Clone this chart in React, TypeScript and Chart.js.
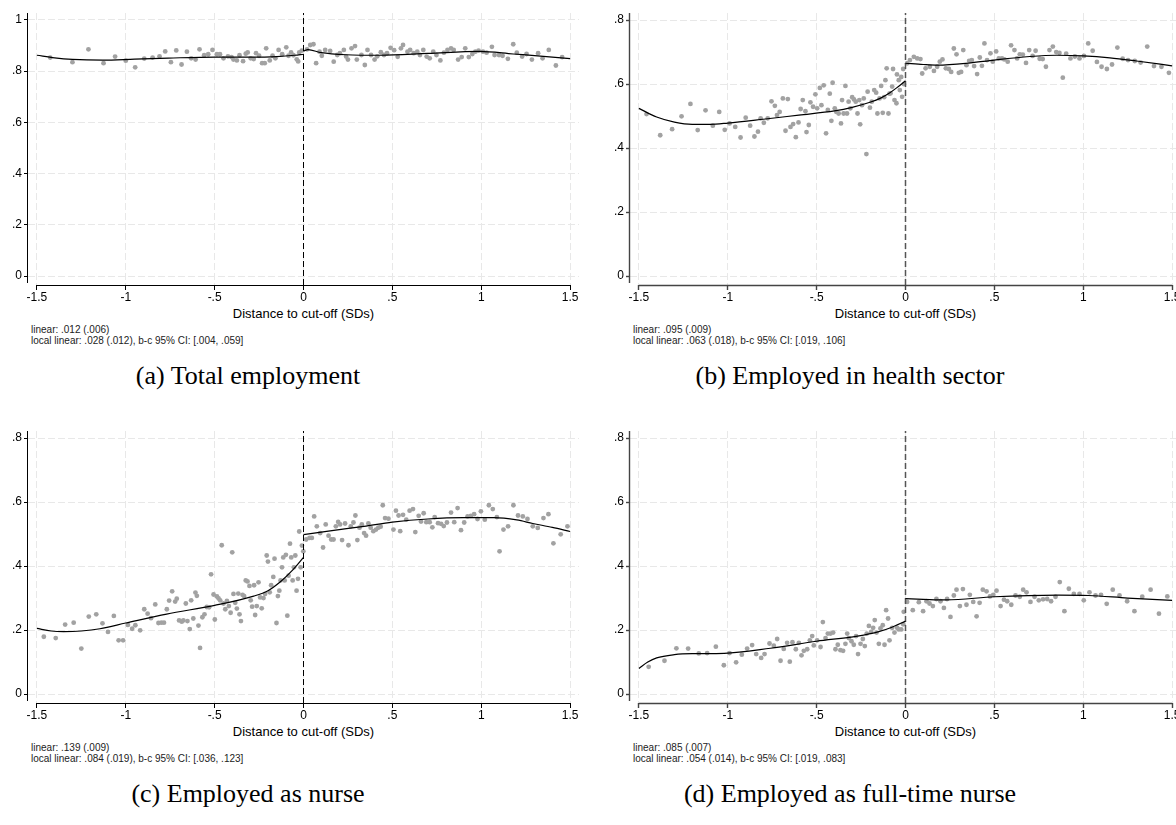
import React, { useEffect, useRef } from 'react';
import { Chart, registerables } from 'chart.js';

Chart.register(...registerables);

type Pt = [number, number];

const SANS = '"Liberation Sans", Arial, Helvetica, sans-serif';
const SERIF = '"Liberation Serif", "Times New Roman", Times, serif';

const xTicks = [-1.5, -1, -0.5, 0, 0.5, 1, 1.5];
const yTicksA = [0, 0.2, 0.4, 0.6, 0.8, 1];
const yTicksBCD = [0, 0.2, 0.4, 0.6, 0.8];
const xTitle = 'Distance to cut-off (SDs)';

const captionA = '(a) Total employment';
const captionB = '(b) Employed in health sector';
const captionC = '(c) Employed as nurse';
const captionD = '(d) Employed as full-time nurse';

const notesA = ['linear: .012 (.006)', 'local linear: .028 (.012), b-c 95% CI: [.004, .059]'];
const notesB = ['linear: .095 (.009)', 'local linear: .063 (.018), b-c 95% CI: [.019, .106]'];
const notesC = ['linear: .139 (.009)', 'local linear: .084 (.019), b-c 95% CI: [.036, .123]'];
const notesD = ['linear: .085 (.007)', 'local linear: .054 (.014), b-c 95% CI: [.019, .083]'];

// ---------- (a) Total employment ----------
const pointsA: Pt[] = [
  [-1.425, .853], [-1.3, .835], [-1.21, .885], [-1.125, .831], [-1.06, .857], [-1.0, .841], [-0.947, .815],
  [-0.896, .849], [-0.849, .853], [-0.81, .858], [-0.778, .877], [-0.746, .835], [-0.716, .881], [-0.686, .826],
  [-0.656, .876], [-0.632, .85], [-0.607, .845], [-0.585, .885], [-0.559, .862], [-0.536, .866], [-0.512, .883],
  [-0.487, .866], [-0.47, .866], [-0.45, .85], [-0.425, .858], [-0.405, .855], [-0.394, .845], [-0.375, .842],
  [-0.36, .862], [-0.34, .839], [-0.325, .868], [-0.314, .873], [-0.297, .85], [-0.28, .847], [-0.267, .87],
  [-0.25, .86], [-0.233, .831], [-0.218, .831], [-0.21, .889], [-0.19, .842], [-0.174, .86], [-0.158, .85],
  [-0.14, .883], [-0.12, .866], [-0.097, .893], [-0.084, .86], [-0.07, .873], [-0.057, .862], [-0.038, .846],
  [-0.03, .838], [-0.024, .873], [-0.01, .88],
  [0.02, .885], [0.038, .902], [0.056, .905], [0.071, .831], [0.09, .876], [0.103, .86], [0.122, .883],
  [0.15, .879], [0.17, .837], [0.19, .863], [0.205, .87], [0.227, .883], [0.24, .857], [0.25, .845],
  [0.27, .889], [0.29, .898], [0.3, .845], [0.326, .863], [0.345, .824], [0.36, .883], [0.38, .863],
  [0.4, .845], [0.415, .858], [0.435, .874], [0.453, .863], [0.47, .87], [0.49, .891], [0.51, .882],
  [0.53, .856], [0.548, .889], [0.56, .902], [0.585, .876], [0.6, .883], [0.62, .87], [0.64, .876],
  [0.655, .863], [0.674, .883], [0.693, .857], [0.71, .85], [0.73, .876], [0.748, .863], [0.77, .842],
  [0.79, .872], [0.81, .883], [0.83, .889], [0.845, .883], [0.87, .845], [0.89, .855], [0.91, .889],
  [0.93, .855], [0.95, .867], [0.967, .876], [0.985, .88], [1.01, .876], [1.03, .872], [1.06, .895],
  [1.075, .863], [1.1, .863], [1.12, .86], [1.15, .848], [1.18, .905], [1.2, .872], [1.23, .857],
  [1.255, .867], [1.285, .845], [1.32, .87], [1.345, .85], [1.38, .883], [1.42, .822], [1.455, .855],
];
const fitLeftA: Pt[] = [
  [-1.5, .862], [-1.4, .852], [-1.3, .846], [-1.13, .843], [-0.95, .847], [-0.76, .851], [-0.5, .855],
  [-0.3, .855], [-0.15, .857], [-0.05, .862], [0, .866],
];
const fitRightA: Pt[] = [
  [0, .878], [0.025, .884], [0.1, .872], [0.24, .864], [0.43, .862], [0.7, .869], [0.99, .877],
  [1.18, .867], [1.35, .858], [1.5, .849],
];

// ---------- (b) Employed in health sector ----------
const pointsB: Pt[] = [
  [-1.457, .506], [-1.38, .44], [-1.313, .459], [-1.26, .499], [-1.21, .538], [-1.169, .456], [-1.125, .518],
  [-1.084, .47], [-1.048, .513], [-1.017, .457], [-0.99, .477], [-0.958, .466], [-0.928, .433], [-0.899, .495],
  [-0.874, .47], [-0.85, .436], [-0.83, .451], [-0.815, .493], [-0.797, .479], [-0.775, .493], [-0.754, .546],
  [-0.735, .532], [-0.723, .503], [-0.708, .513], [-0.69, .555], [-0.675, .454], [-0.662, .553], [-0.647, .466],
  [-0.632, .475], [-0.617, .434], [-0.602, .48], [-0.59, .522], [-0.578, .55], [-0.563, .515], [-0.557, .45],
  [-0.544, .472], [-0.535, .543], [-0.52, .529], [-0.507, .568], [-0.497, .524], [-0.482, .588], [-0.473, .534],
  [-0.46, .596], [-0.447, .446], [-0.437, .519], [-0.426, .57], [-0.417, .485], [-0.41, .604], [-0.398, .524],
  [-0.389, .513], [-0.376, .508], [-0.363, .477], [-0.357, .55], [-0.348, .508], [-0.338, .594], [-0.329, .508],
  [-0.32, .545], [-0.31, .524], [-0.3, .559], [-0.29, .552], [-0.28, .545], [-0.27, .508], [-0.26, .55],
  [-0.255, .474], [-0.245, .534], [-0.235, .555], [-0.22, .381], [-0.213, .576], [-0.2, .526], [-0.19, .545],
  [-0.176, .581], [-0.165, .573], [-0.158, .508], [-0.146, .555], [-0.137, .594], [-0.128, .51], [-0.12, .559],
  [-0.113, .612], [-0.106, .649], [-0.096, .508], [-0.09, .57], [-0.084, .571], [-0.075, .592], [-0.07, .647],
  [-0.062, .55], [-0.051, .54], [-0.048, .63], [-0.038, .612], [-0.032, .581], [-0.024, .622], [-0.019, .56],
  [-0.013, .647], [-0.009, .6],
  [0.01, .665], [0.025, .675], [0.047, .685], [0.066, .68], [0.084, .678], [0.094, .633], [0.113, .649],
  [0.137, .654], [0.16, .641], [0.178, .654], [0.193, .67], [0.208, .677], [0.227, .649], [0.244, .647],
  [0.257, .638], [0.272, .711], [0.287, .693], [0.3, .635], [0.313, .638], [0.325, .706], [0.343, .659],
  [0.358, .672], [0.373, .675], [0.386, .656], [0.403, .631], [0.418, .683], [0.43, .657], [0.444, .727],
  [0.459, .675], [0.478, .696], [0.491, .67], [0.51, .702], [0.525, .68], [0.543, .68], [0.556, .677],
  [0.575, .67], [0.594, .721], [0.613, .706], [0.628, .68], [0.643, .693], [0.66, .692], [0.678, .666],
  [0.696, .706], [0.715, .688], [0.732, .704], [0.755, .679], [0.772, .678], [0.79, .654], [0.81, .706],
  [0.829, .717], [0.848, .7], [0.866, .697], [0.885, .62], [0.904, .695], [0.928, .68], [0.953, .686],
  [0.979, .68], [1.004, .688], [1.028, .727], [1.053, .704], [1.077, .669], [1.103, .654], [1.133, .647],
  [1.162, .661], [1.192, .714], [1.222, .679], [1.252, .675], [1.29, .672], [1.323, .667], [1.36, .717],
  [1.398, .656], [1.44, .654], [1.482, .635],
];
const fitLeftB: Pt[] = [
  [-1.5, .524], [-1.4, .497], [-1.3, .481], [-1.2, .474], [-1.1, .474], [-1.0, .478], [-0.8, .49],
  [-0.6, .503], [-0.4, .516], [-0.3, .527], [-0.2, .543], [-0.14, .556], [-0.09, .572], [-0.05, .588], [0, .61],
];
const fitRightB: Pt[] = [
  [0, .665], [0.1, .661], [0.18, .659], [0.35, .665], [0.5, .675], [0.7, .686], [0.85, .69], [1.0, .688],
  [1.15, .682], [1.3, .672], [1.5, .657],
];

// ---------- (c) Employed as nurse ----------
const pointsC: Pt[] = [
  [-1.461, .179], [-1.394, .175], [-1.341, .217], [-1.293, .223], [-1.25, .142], [-1.208, .242], [-1.166, .249],
  [-1.131, .221], [-1.1, .194], [-1.067, .244], [-1.04, .168], [-1.015, .168], [-0.988, .216], [-0.964, .204],
  [-0.946, .215], [-0.919, .199], [-0.896, .265], [-0.877, .251], [-0.858, .237], [-0.834, .28], [-0.816, .222],
  [-0.8, .223], [-0.785, .223], [-0.769, .265], [-0.756, .292], [-0.739, .321], [-0.722, .289], [-0.713, .298],
  [-0.7, .23], [-0.685, .226], [-0.676, .23], [-0.662, .283], [-0.653, .228], [-0.64, .203], [-0.632, .293],
  [-0.62, .236], [-0.608, .317], [-0.6, .307], [-0.591, .214], [-0.582, .144], [-0.569, .24], [-0.557, .249],
  [-0.544, .272], [-0.531, .271], [-0.52, .374], [-0.506, .311], [-0.499, .233], [-0.487, .305], [-0.478, .299],
  [-0.469, .293], [-0.46, .465], [-0.45, .283], [-0.44, .265], [-0.431, .291], [-0.42, .275], [-0.41, .254],
  [-0.401, .443], [-0.394, .313], [-0.384, .285], [-0.375, .267], [-0.367, .314], [-0.36, .249], [-0.352, .228],
  [-0.343, .31], [-0.334, .306], [-0.325, .355], [-0.315, .352], [-0.304, .338], [-0.297, .293], [-0.289, .273],
  [-0.278, .34], [-0.272, .247], [-0.263, .275], [-0.253, .349], [-0.244, .302], [-0.235, .268], [-0.225, .3],
  [-0.216, .313], [-0.207, .433], [-0.2, .414], [-0.19, .318], [-0.182, .34], [-0.17, .366], [-0.163, .423],
  [-0.152, .222], [-0.144, .306], [-0.136, .323], [-0.129, .355], [-0.121, .396], [-0.114, .427], [-0.106, .355],
  [-0.099, .435], [-0.091, .245], [-0.084, .37], [-0.076, .47], [-0.069, .427], [-0.061, .355], [-0.054, .396],
  [-0.046, .433], [-0.039, .323], [-0.031, .36], [-0.024, .508], [-0.016, .396], [-0.009, .464], [-0.001, .446],
  [0.015, .483], [0.034, .488], [0.047, .488], [0.06, .555], [0.075, .524], [0.094, .503], [0.11, .458],
  [0.125, .53], [0.141, .495], [0.156, .483], [0.169, .483], [0.182, .524], [0.195, .538], [0.206, .53],
  [0.217, .481], [0.234, .533], [0.253, .465], [0.266, .524], [0.281, .536], [0.292, .558], [0.303, .481],
  [0.315, .52], [0.328, .53], [0.341, .503], [0.352, .495], [0.365, .533], [0.378, .52], [0.393, .509],
  [0.408, .514], [0.421, .52], [0.434, .523], [0.446, .59], [0.459, .55], [0.478, .548], [0.506, .514],
  [0.52, .573], [0.535, .558], [0.544, .509], [0.56, .56], [0.578, .545], [0.597, .573], [0.616, .578],
  [0.629, .506], [0.648, .557], [0.661, .539], [0.676, .565], [0.691, .537], [0.71, .537], [0.725, .521],
  [0.738, .553], [0.757, .534], [0.774, .532], [0.789, .525], [0.807, .536], [0.83, .567], [0.848, .537],
  [0.867, .581], [0.886, .512], [0.904, .536], [0.923, .555], [0.942, .557], [0.96, .562], [0.979, .547],
  [0.998, .571], [1.02, .545], [1.043, .59], [1.065, .578], [1.088, .553], [1.103, .446], [1.125, .514],
  [1.151, .524], [1.181, .59], [1.207, .558], [1.234, .555], [1.26, .547], [1.29, .524], [1.318, .519],
  [1.35, .55], [1.378, .562], [1.406, .471], [1.447, .499], [1.485, .524],
];
const fitLeftC: Pt[] = [
  [-1.5, .205], [-1.42, .197], [-1.35, .195], [-1.25, .197], [-1.145, .204], [-1.0, .222], [-0.77, .25],
  [-0.5, .277], [-0.28, .306], [-0.2, .323], [-0.13, .351], [-0.06, .388], [0, .427],
];
const fitRightC: Pt[] = [
  [0, .498], [0.15, .51], [0.34, .524], [0.5, .537], [0.7, .547], [0.9, .551], [1.07, .551], [1.2, .544],
  [1.29, .533], [1.4, .521], [1.5, .508],
];

// ---------- (d) Employed as full-time nurse ----------
const pointsD: Pt[] = [
  [-1.445, .085], [-1.356, .104], [-1.289, .143], [-1.223, .142], [-1.163, .127], [-1.116, .128], [-1.067, .148],
  [-1.022, .09], [-0.99, .128], [-0.953, .099], [-0.921, .123], [-0.891, .142], [-0.863, .153], [-0.84, .125],
  [-0.812, .113], [-0.793, .125], [-0.765, .158], [-0.741, .151], [-0.722, .172], [-0.703, .104], [-0.685, .141],
  [-0.666, .16], [-0.651, .101], [-0.636, .162], [-0.617, .14], [-0.6, .16], [-0.585, .121], [-0.572, .135],
  [-0.553, .14], [-0.538, .168], [-0.525, .181], [-0.516, .152], [-0.497, .168], [-0.478, .147], [-0.465, .225],
  [-0.45, .175], [-0.437, .189], [-0.422, .189], [-0.407, .192], [-0.394, .14], [-0.381, .154], [-0.366, .137],
  [-0.351, .135], [-0.338, .157], [-0.328, .189], [-0.319, .175], [-0.304, .165], [-0.291, .154], [-0.278, .181],
  [-0.267, .125], [-0.253, .157], [-0.24, .172], [-0.229, .15], [-0.218, .189], [-0.206, .213], [-0.193, .194],
  [-0.182, .207], [-0.173, .231], [-0.163, .192], [-0.15, .157], [-0.141, .205], [-0.128, .215], [-0.118, .154],
  [-0.109, .262], [-0.098, .236], [-0.09, .168], [-0.075, .207], [-0.062, .192], [-0.047, .207], [-0.038, .202],
  [-0.024, .202], [-0.013, .218], [-0.01, .257],
  [0.009, .288], [0.041, .262], [0.075, .287], [0.099, .259], [0.118, .29], [0.135, .283], [0.154, .275],
  [0.174, .297], [0.197, .29], [0.216, .269], [0.234, .297], [0.253, .241], [0.272, .308], [0.287, .326],
  [0.306, .275], [0.323, .328], [0.343, .279], [0.362, .31], [0.381, .288], [0.4, .243], [0.417, .285],
  [0.435, .326], [0.456, .321], [0.475, .305], [0.494, .31], [0.512, .323], [0.535, .275], [0.554, .295],
  [0.572, .29], [0.595, .279], [0.619, .308], [0.643, .304], [0.662, .326], [0.681, .318], [0.703, .288],
  [0.726, .304], [0.75, .293], [0.774, .296], [0.797, .297], [0.819, .29], [0.844, .304], [0.868, .35],
  [0.894, .259], [0.919, .329], [0.947, .313], [0.979, .313], [1.003, .293], [1.035, .318], [1.069, .308],
  [1.1, .31], [1.132, .282], [1.166, .326], [1.204, .308], [1.247, .29], [1.288, .259], [1.332, .304],
  [1.379, .326], [1.426, .251], [1.473, .305],
];
const fitLeftD: Pt[] = [
  [-1.5, .08], [-1.45, .1], [-1.4, .113], [-1.3, .123], [-1.2, .126], [-1.02, .127], [-0.76, .143],
  [-0.5, .165], [-0.27, .181], [-0.15, .195], [-0.08, .208], [0, .228],
];
const fitRightD: Pt[] = [
  [0, .298], [0.1, .296], [0.23, .294], [0.5, .304], [0.86, .309], [1.03, .308], [1.25, .3], [1.5, .293],
];

const fmtTick = (v: number): string => {
  if (Math.abs(v) < 1e-9) return '0';
  const s = String(Math.round(v * 100) / 100);
  return s.replace(/^(-?)0\./, '$1.');
};

interface PanelCfg {
  left: number;
  top: number;
  canvasW: number;
  axisW: number;
  padR: number;
  yMin: number;
  yMax: number;
  yTicks: number[];
  points: Pt[];
  fitL: Pt[];
  fitR: Pt[];
  axisColor: string;
  axisWidth: number;
  cutColor: string;
  cutWidth: number;
  notes: string[];
  caption: string;
  captionX: number;
}

const CANVAS_H = 305;
const PAD_TOP = 13;
const X_AXIS_H = 20;
const X_MIN = -1.55;
const X_MAX = 1.55;

function Panel({ cfg }: { cfg: PanelCfg }) {
  const ref = useRef<HTMLCanvasElement>(null);

  useEffect(() => {
    const canvas = ref.current;
    if (!canvas) return;
    const toXY = (arr: Pt[]) => arr.map(([x, y]) => ({ x, y }));
    const axesPlugin = {
      id: 'stataAxes',
      afterDraw(chart: any) {
        const { ctx, chartArea, scales } = chart;
        const xs = scales.x;
        ctx.save();
        ctx.strokeStyle = cfg.axisColor;
        ctx.lineWidth = cfg.axisWidth;
        ctx.beginPath();
        const xa = xs.getPixelForValue(xTicks[0]);
        const xb = xs.getPixelForValue(xTicks[xTicks.length - 1]);
        ctx.moveTo(xa, chartArea.bottom + 0.5);
        ctx.lineTo(xb, chartArea.bottom + 0.5);
        ctx.moveTo(chartArea.left - 0.5, chartArea.top);
        ctx.lineTo(chartArea.left - 0.5, chartArea.bottom - 2);
        ctx.stroke();
        ctx.restore();
      },
    };
    const gridCommon = {
      color: '#e8e8e8',
      lineWidth: 1,
      tickColor: cfg.axisColor,
      tickWidth: cfg.axisWidth,
      tickBorderDash: [],
    };
    const chart = new Chart(canvas, {
      type: 'scatter',
      data: {
        datasets: [
          {
            data: toXY(cfg.fitL),
            showLine: true,
            borderColor: '#000',
            borderWidth: 1.2,
            pointRadius: 0,
            cubicInterpolationMode: 'monotone',
            order: 0,
          } as any,
          {
            data: toXY(cfg.fitR),
            showLine: true,
            borderColor: '#000',
            borderWidth: 1.2,
            pointRadius: 0,
            cubicInterpolationMode: 'monotone',
            order: 0,
          } as any,
          {
            data: [{ x: 0, y: cfg.yMin }, { x: 0, y: cfg.yMax }],
            showLine: true,
            borderColor: cfg.cutColor,
            borderWidth: cfg.cutWidth,
            borderDash: [6, 3],
            pointRadius: 0,
            order: 1,
          } as any,
          {
            data: toXY(cfg.points),
            pointRadius: 2.4,
            pointBackgroundColor: '#a2a2a2',
            pointBorderWidth: 0,
            backgroundColor: '#a2a2a2',
            borderWidth: 0,
            order: 2,
          } as any,
        ],
      },
      options: {
        animation: false,
        responsive: false,
        devicePixelRatio: 1,
        events: [],
        layout: { padding: { top: PAD_TOP, right: cfg.padR, bottom: 0, left: 0 } },
        plugins: { legend: { display: false }, tooltip: { enabled: false } },
        scales: {
          x: {
            type: 'linear',
            min: X_MIN,
            max: X_MAX,
            afterBuildTicks: (s: any) => {
              s.ticks = xTicks.map((v) => ({ value: v }));
            },
            afterFit: (s: any) => {
              s.height = X_AXIS_H;
            },
            grid: { ...gridCommon, tickLength: 5 },
            border: { display: false, dash: [7, 3] },
            ticks: {
              autoSkip: false,
              maxRotation: 0,
              padding: 0,
              color: '#000',
              font: { family: SANS, size: 12 },
              callback: (v: any) => fmtTick(Number(v)),
            },
          },
          y: {
            type: 'linear',
            min: cfg.yMin,
            max: cfg.yMax,
            afterBuildTicks: (s: any) => {
              s.ticks = cfg.yTicks.map((v) => ({ value: v }));
            },
            afterFit: (s: any) => {
              s.width = cfg.axisW;
            },
            grid: { ...gridCommon, tickLength: 4 },
            border: { display: false, dash: [7, 3] },
            ticks: {
              autoSkip: false,
              padding: 2,
              color: '#000',
              font: { family: SANS, size: 12 },
              callback: (v: any) => fmtTick(Number(v)),
            },
          },
        },
      },
      plugins: [axesPlugin],
    } as any);
    return () => chart.destroy();
  }, [cfg]);

  const plotW = cfg.canvasW - cfg.padR - cfg.axisW;
  const zeroX = cfg.left + cfg.axisW + ((0 - X_MIN) / (X_MAX - X_MIN)) * plotW;

  return (
    <>
      <canvas
        ref={ref}
        width={cfg.canvasW}
        height={CANVAS_H}
        style={{ position: 'absolute', left: cfg.left, top: cfg.top, width: cfg.canvasW, height: CANVAS_H }}
      />
      <div
        style={{
          position: 'absolute',
          left: zeroX,
          top: cfg.top + 306,
          transform: 'translateX(-50%)',
          fontFamily: SANS,
          fontSize: 13,
          lineHeight: '16px',
          whiteSpace: 'nowrap',
          color: '#000',
        }}
      >
        {xTitle}
      </div>
      <div
        style={{
          position: 'absolute',
          left: cfg.left + cfg.axisW + 3,
          top: cfg.top + 324,
          fontFamily: SANS,
          fontSize: 10,
          lineHeight: '11px',
          whiteSpace: 'nowrap',
          color: '#222',
        }}
      >
        {cfg.notes.map((n, i) => (
          <div key={i}>{n}</div>
        ))}
      </div>
      <div
        style={{
          position: 'absolute',
          left: cfg.captionX,
          top: cfg.top + 362,
          transform: 'translateX(-50%)',
          fontFamily: SERIF,
          fontSize: 26,
          lineHeight: '28px',
          whiteSpace: 'nowrap',
          color: '#000',
        }}
      >
        {cfg.caption}
      </div>
    </>
  );
}

const ROW2 = 418;

const panels: PanelCfg[] = [
  {
    left: 0, top: 0, canvasW: 588, axisW: 28, padR: 9,
    yMin: -0.035, yMax: 1.027, yTicks: yTicksA,
    points: pointsA, fitL: fitLeftA, fitR: fitRightA,
    axisColor: '#000', axisWidth: 1, cutColor: '#000', cutWidth: 1,
    notes: notesA, caption: captionA, captionX: 248,
  },
  {
    left: 588, top: 0, canvasW: 600, axisW: 42, padR: 7,
    yMin: -0.028, yMax: 0.822, yTicks: yTicksBCD,
    points: pointsB, fitL: fitLeftB, fitR: fitRightB,
    axisColor: '#444', axisWidth: 1.4, cutColor: '#555', cutWidth: 1.5,
    notes: notesB, caption: captionB, captionX: 850,
  },
  {
    left: 0, top: ROW2, canvasW: 588, axisW: 28, padR: 9,
    yMin: -0.028, yMax: 0.822, yTicks: yTicksBCD,
    points: pointsC, fitL: fitLeftC, fitR: fitRightC,
    axisColor: '#000', axisWidth: 1, cutColor: '#000', cutWidth: 1,
    notes: notesC, caption: captionC, captionX: 248,
  },
  {
    left: 588, top: ROW2, canvasW: 600, axisW: 42, padR: 7,
    yMin: -0.028, yMax: 0.822, yTicks: yTicksBCD,
    points: pointsD, fitL: fitLeftD, fitR: fitRightD,
    axisColor: '#444', axisWidth: 1.4, cutColor: '#555', cutWidth: 1.5,
    notes: notesD, caption: captionD, captionX: 850,
  },
];

export default function App() {
  return (
    <div
      style={{
        position: 'absolute',
        left: 0,
        top: 0,
        width: 1176,
        height: 825,
        overflow: 'hidden',
        background: '#fff',
      }}
    >
      {panels.map((p, i) => (
        <Panel key={i} cfg={p} />
      ))}
    </div>
  );
}
